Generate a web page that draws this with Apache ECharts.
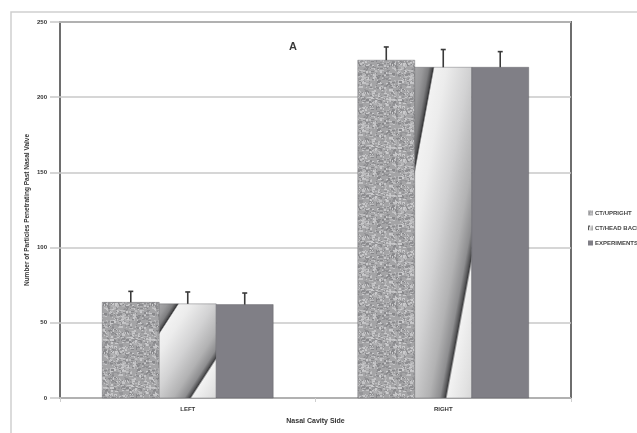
<!DOCTYPE html>
<html>
<head>
<meta charset="utf-8">
<script src="https://cdn.jsdelivr.net/npm/echarts@6/dist/echarts.min.js"></script>
<style>
  html, body { margin: 0; padding: 0; background: #ffffff; }
  #chart { width: 637px; height: 433px; }
</style>
</head>
<body>
<div id="chart"></div>
<script>
// ---- data ----
const categories = ['LEFT', 'RIGHT'];
const seriesNames = ['CT/UPRIGHT', 'CT/HEAD BACK', 'EXPERIMENTS'];
const uprightValues = [63.6, 224.6];
const uprightErrors = [7.3, 8.8];
const headBackValues = [62.6, 219.9];
const headBackErrors = [7.9, 11.8];
const experimentValues = [62.1, 219.9];
const experimentErrors = [7.7, 10.4];
const yTicks = [0, 50, 100, 150, 200, 250];

// ---- textures ----
function hash(n) { const s = Math.sin(n * 127.1 + 311.7) * 43758.5453; return s - Math.floor(s); }
function makeGranite() {
  const c = document.createElement('canvas');
  c.width = 48; c.height = 48;
  const g = c.getContext('2d');
  g.fillStyle = '#a4a4a6'; g.fillRect(0, 0, 48, 48);
  const cols = ['#c4c4c6', '#bcbcbe', '#8e8e91', '#959598', '#b2b2b4', '#88888b', '#cacacc'];
  for (let i = 0; i < 700; i++) {
    const x = Math.floor(hash(i * 3 + 1) * 48);
    const y = Math.floor(hash(i * 3 + 2) * 48);
    const sw = 1 + Math.floor(hash(i * 3 + 3) * 2.4);
    const sh = 1 + Math.floor(hash(i * 5 + 4) * 1.8);
    g.fillStyle = cols[Math.floor(hash(i * 7 + 5) * cols.length)];
    g.fillRect(x, y, sw, sh);
  }
  return c;
}
const granite = { image: makeGranite(), repeat: 'repeat' };
const solidGray = '#807f86';

// sawtooth chrome gradient laid out along the bar (in pixel units of x + s*y)
const chromeStopsPx = [
  [0, '#a8a8aa'], [8, '#98989a'], [14, '#7e7e80'], [17, '#555557'], [18.5, '#363638'], [20, '#f2f2f2'],
  [32, '#ececec'], [55, '#d2d2d3'], [75, '#b2b2b3'], [86, '#8e8e90'], [90, '#5a5a5c'], [91.5, '#3e3e40'],
  [93.5, '#f2f2f2'], [110, '#e2e2e2'], [150, '#b0b0b0']
];
const chromePeriod = 150;
function chromeFill(x, y, w, h) {
  const s = 61 / Math.max(h, 1);
  const D = chromePeriod / (1 + s * s);
  return {
    type: 'linear', global: true,
    x: x, y: y, x2: x + D, y2: y + D * s,
    colorStops: chromeStopsPx.map(p => ({ offset: p[0] / chromePeriod, color: p[1] }))
  };
}
const chromeLegend = {
  type: 'linear', x: 0, y: 0, x2: 1, y2: 0.3,
  colorStops: [{ offset: 0, color: '#888' }, { offset: 0.3, color: '#444' }, { offset: 0.4, color: '#eee' }, { offset: 1, color: '#aaa' }]
};

const seriesValues = [uprightValues, headBackValues, experimentValues];
const seriesErrors = [uprightErrors, headBackErrors, experimentErrors];
const legendColors = [granite, chromeLegend, solidGray];

function makeRender(si) {
  return function (params, api) {
    const cat = api.value(0), val = api.value(1), err = api.value(2);
    const base = api.coord([cat, 0]);
    const top = api.coord([cat, val]);
    const et = api.coord([cat, val + err]);
    const band = api.size([1, 0])[0];
    const bw = band * 0.223;
    const x = base[0] + (si - 1) * bw - bw / 2;
    const y = top[1];
    const h = base[1] - top[1];
    let fill;
    if (si === 0) fill = granite;
    else if (si === 1) fill = chromeFill(x, y, bw, h);
    else fill = solidGray;
    const cx = x + bw / 2;
    return {
      type: 'group',
      children: [
        { type: 'rect', shape: { x: x, y: y, width: bw, height: h },
          style: { fill: fill, stroke: 'rgba(90,90,95,0.5)', lineWidth: 0.8 } },
        { type: 'line', shape: { x1: cx, y1: y, x2: cx, y2: et[1] },
          style: { stroke: '#3a3a3a', lineWidth: 1.6 } },
        { type: 'line', shape: { x1: cx - 2.5, y1: et[1], x2: cx + 2.5, y2: et[1] },
          style: { stroke: '#3a3a3a', lineWidth: 1.6 } }
      ]
    };
  };
}

const series = seriesNames.map((name, si) => ({
  name: name,
  type: 'custom',
  renderItem: makeRender(si),
  itemStyle: { color: legendColors[si] },
  encode: { x: 0, y: 1 },
  data: categories.map((c, ci) => [ci, seriesValues[si][ci], seriesErrors[si][ci]])
}));

const chart = echarts.init(document.getElementById('chart'), null, { renderer: 'canvas' });
chart.setOption({
  animation: false,
  backgroundColor: '#ffffff',
  textStyle: { fontFamily: 'Liberation Sans, Arial, sans-serif' },
  title: {
    text: 'A', left: 284, top: 36,
    textStyle: { fontSize: 11, fontWeight: 'bold', color: '#3a3a3a' }
  },
  graphic: [{
    type: 'polyline', silent: true,
    shape: { points: [[11, 433], [11, 12], [637, 12]] },
    style: { stroke: '#cfcfcf', lineWidth: 1.5, fill: null }
  }],
  legend: {
    orient: 'vertical', left: 583, top: 205,
    itemWidth: 5, itemHeight: 5, itemGap: 9, icon: 'rect',
    textStyle: { fontSize: 6, fontWeight: 'bold', color: '#444', padding: [0, 0, 0, -3] },
    data: seriesNames
  },
  grid: {
    left: 60, right: 66, top: 22, bottom: 35,
    show: true, borderColor: '#6e6e6e', borderWidth: 2, backgroundColor: '#ffffff'
  },
  xAxis: {
    type: 'category', data: categories,
    name: 'Nasal Cavity Side', nameLocation: 'middle', nameGap: 20,
    nameTextStyle: { fontSize: 7, fontWeight: 'bold', color: '#333' },
    axisLine: { show: false },
    axisTick: { show: true, length: 4, lineStyle: { color: '#cfcfcf' } },
    axisLabel: { fontSize: 6, fontWeight: 'bold', color: '#333', margin: 8 }
  },
  yAxis: {
    type: 'value', min: yTicks[0], max: yTicks[yTicks.length - 1], interval: 50,
    name: 'Number of Particles Penetrating Past Nasal Valve',
    nameLocation: 'middle', nameGap: 29, nameRotate: 90, nameMoveOverlap: false,
    nameTextStyle: { fontSize: 6.5, fontWeight: 'bold', color: '#333' },
    axisLine: { show: false },
    axisTick: { show: true, length: 10, lineStyle: { color: '#c8c8c8', width: 1.5 } },
    axisLabel: { fontSize: 6, fontWeight: 'bold', color: '#333', margin: 13 },
    splitLine: { show: true, lineStyle: { color: '#c8c8c8', width: 1.5 } }
  },
  series: series
});
</script>
</body>
</html>
